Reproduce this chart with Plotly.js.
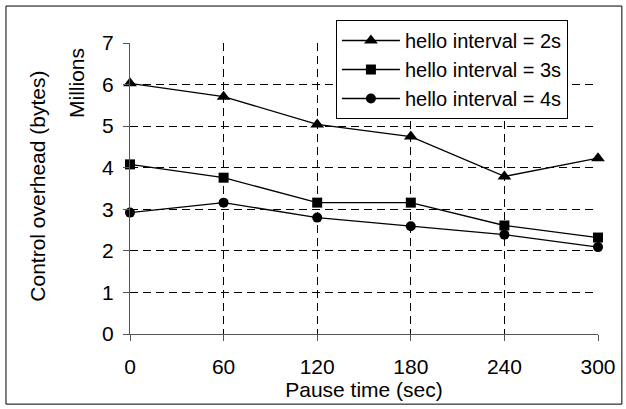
<!DOCTYPE html>
<html>
<head>
<meta charset="utf-8">
<script src="https://cdn.plot.ly/plotly-3.0.1.min.js"></script>
<style>
  html, body { margin: 0; padding: 0; background: #fff; }
  #chart { width: 626px; height: 409px; }
</style>
</head>
<body>
<div id="chart"></div>
<script>
const pauseTimes = [0, 60, 120, 180, 240, 300];
const hello2s = [6.03, 5.71, 5.04, 4.75, 3.79, 4.23];
const hello3s = [4.08, 3.76, 3.16, 3.16, 2.61, 2.32];
const hello4s = [2.92, 3.16, 2.80, 2.59, 2.39, 2.09];
const seriesNames = ['hello interval = 2s', 'hello interval = 3s', 'hello interval = 4s'];
const yTicks = [0, 1, 2, 3, 4, 5, 6, 7];

const FONT = 'Liberation Sans, Arial, sans-serif';
const FS = 21;

function trace(y, name, symbol, size) {
  return {
    x: pauseTimes, y: y, name: name, type: 'scatter', mode: 'lines+markers',
    line: { color: '#000', width: 1.3 },
    marker: { symbol: symbol, size: size, color: '#000' },
    cliponaxis: false
  };
}

const data = [
  trace(hello2s, seriesNames[0], 'triangle-up', 12),
  trace(hello3s, seriesNames[1], 'square', 10),
  trace(hello4s, seriesNames[2], 'circle', 10)
];

const layout = {
  width: 626, height: 409,
  margin: { l: 130, r: 28, t: 43, b: 75 },
  paper_bgcolor: '#fff', plot_bgcolor: '#fff',
  font: { family: FONT, size: FS, color: '#000' },
  showlegend: true,
  legend: {
    x: 0.44, y: 1.079, xanchor: 'left', yanchor: 'top',
    bordercolor: '#000', borderwidth: 1, bgcolor: '#fff',
    font: { family: FONT, size: 20, color: '#000' },
    itemwidth: 58, tracegroupgap: 0
  },
  xaxis: {
    range: [0, 300], tickvals: pauseTimes, ticktext: pauseTimes.map(String),
    showgrid: true, gridcolor: '#000', gridwidth: 1, griddash: '8px,5px',
    showline: true, linecolor: '#555', linewidth: 1,
    ticks: 'outside', ticklen: 6, tickcolor: '#555',
    ticklabelstandoff: 8,
    tickfont: { family: FONT, size: FS, color: '#000' },
    zeroline: false,
    title: { text: 'Pause time (sec)', font: { family: FONT, size: FS, color: '#000' }, standoff: 5 }
  },
  yaxis: {
    range: [0, 7], tickvals: yTicks, ticktext: yTicks.map(String),
    showgrid: true, gridcolor: '#000', gridwidth: 1, griddash: '8px,5px',
    showline: true, linecolor: '#555', linewidth: 1,
    ticks: 'outside', ticklen: 6, tickcolor: '#555',
    ticklabelstandoff: 5,
    tickfont: { family: FONT, size: FS, color: '#000' },
    zeroline: false
  },
  annotations: [
    { text: 'Control overhead (bytes)', xref: 'paper', yref: 'paper',
      x: -0.197, y: 0.509, xanchor: 'center', yanchor: 'middle',
      textangle: -90, showarrow: false,
      font: { family: FONT, size: FS, color: '#000' } },
    { text: 'Millions', xref: 'paper', yref: 'paper',
      x: -0.113, y: 0.863, xanchor: 'center', yanchor: 'middle',
      textangle: -90, showarrow: false,
      font: { family: FONT, size: FS, color: '#000' } }
  ],
  shapes: [
    { type: 'rect', xref: 'paper', yref: 'paper',
      x0: -0.265, x1: 1.051, y0: -0.241, y1: 1.127,
      line: { color: '#000', width: 1 }, layer: 'below' }
  ]
};

Plotly.newPlot('chart', data, layout, { displayModeBar: false, staticPlot: true });
</script>
</body>
</html>
